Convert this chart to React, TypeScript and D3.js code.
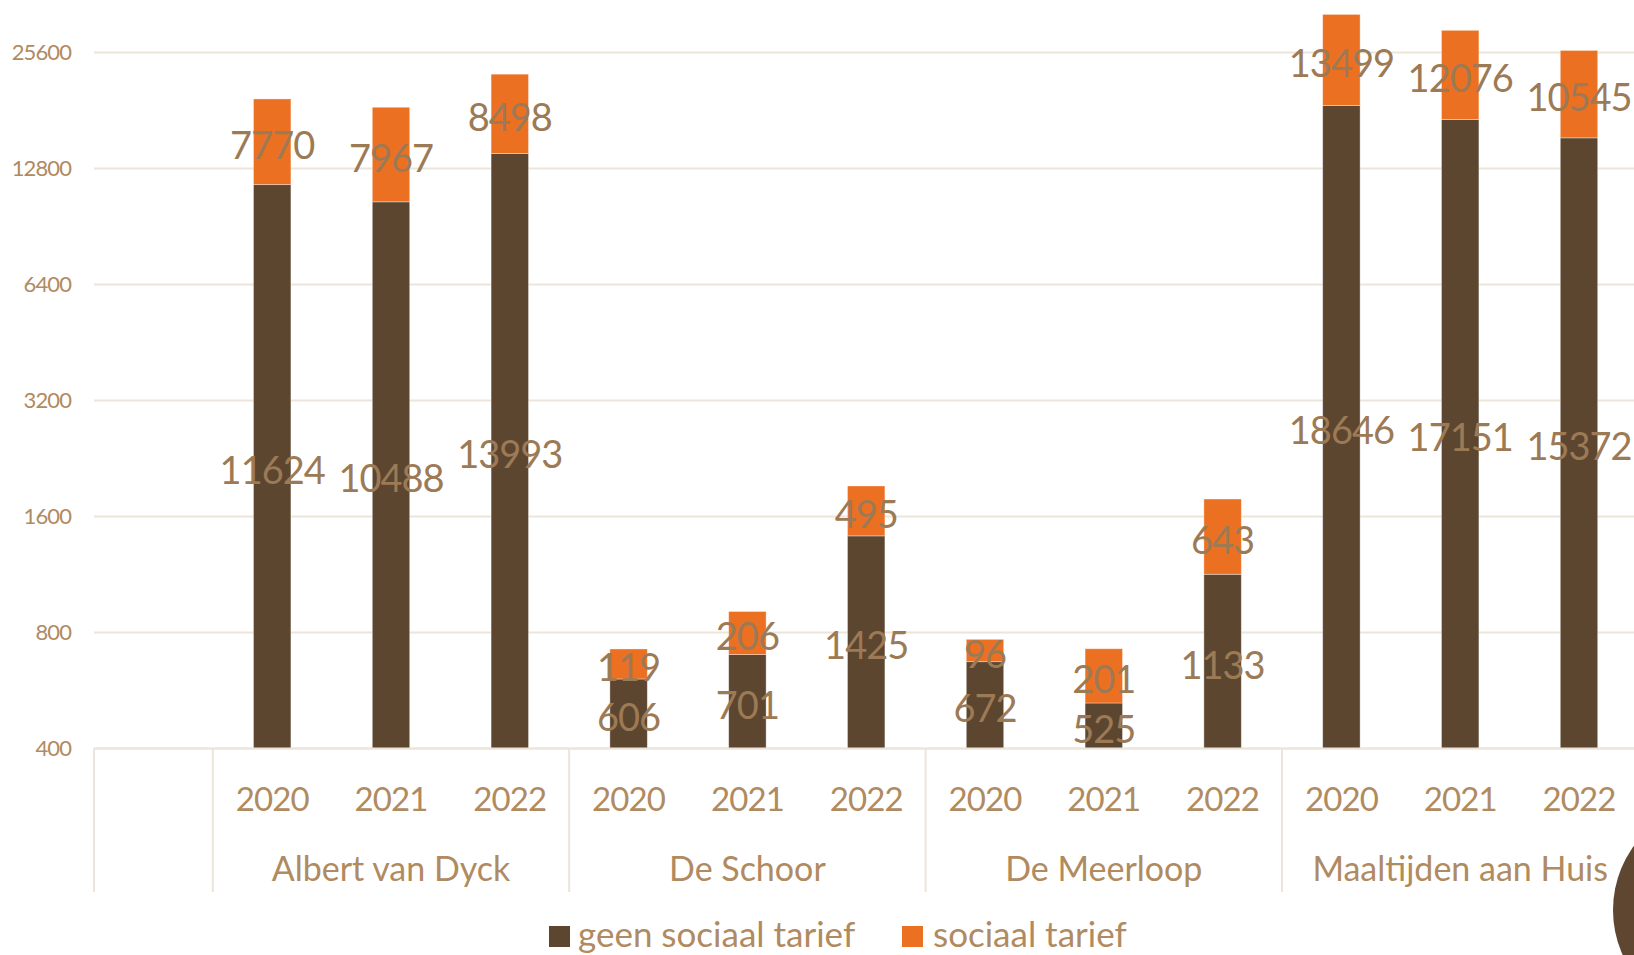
import React from "react";
import * as d3 from "d3";

const groups = ["Albert van Dyck", "De Schoor", "De Meerloop", "Maaltijden aan Huis"];
const years = ["2020", "2021", "2022"];
const geenSociaal = [11624, 10488, 13993, 606, 701, 1425, 672, 525, 1133, 18646, 17151, 15372];
const sociaal = [7770, 7967, 8498, 119, 206, 495, 96, 201, 643, 13499, 12076, 10545];
const yTicks = [400, 800, 1600, 3200, 6400, 12800, 25600];
const seriesNames = ["geen sociaal tarief", "sociaal tarief"];

const W = 1634;
const H = 955;
const FONT = "Lato, 'Open Sans', sans-serif";
const C_DARK = "#5C4630";
const C_ORANGE = "#EC7022";
const C_GRID = "#EDE4DA";
const C_AXISTXT = "#B08A60";
const C_LABEL = "#9C7A55";

export default function App() {
  const left = 94;
  const step = 118.8;
  const keys = ["blank"];
  groups.forEach((g) => years.forEach((yr) => keys.push(g + "|" + yr)));
  const x = d3
    .scaleBand<string>()
    .domain(keys)
    .range([left, left + step * keys.length])
    .paddingInner(0.685)
    .paddingOuter(0.3425);
  const y = d3.scaleLog().base(2).domain([400, 25600]).range([748.5, 52.5]);
  const bw = x.bandwidth();

  const rows = keys.slice(1).map((k, i) => {
    const [g, yr] = k.split("|");
    return { key: k, group: g, year: yr, a: geenSociaal[i], b: sociaal[i] };
  });

  const labelSize = 38;
  const labelLs = -1.0;
  const labelOff = labelSize * 0.36 + 3.5;

  return (
    <svg
      width={W}
      height={H}
      style={{ position: "absolute", left: 0, top: 0, background: "#fff" }}
      fontFamily={FONT}
    >
      <rect x={0} y={0} width={W} height={H} fill="#fff" />
      {/* gridlines */}
      {yTicks.map((t) => (
        <line key={"g" + t} x1={left} x2={W} y1={y(t)} y2={y(t)} stroke={C_GRID} strokeWidth={2} />
      ))}
      {/* y tick labels */}
      {yTicks.map((t) => (
        <text
          key={"t" + t}
          x={71}
          y={y(t) + 7.8}
          textAnchor="end"
          fontSize={22}
          letterSpacing={-0.9}
          fill={C_AXISTXT}
        >
          {t}
        </text>
      ))}
      {/* bars */}
      {rows.map((r) => {
        const x0 = x(r.key)!;
        const y0 = y(400);
        const y1 = y(r.a);
        const y2 = y(r.a + r.b);
        return (
          <g key={r.key}>
            <rect x={x0} y={y1} width={bw} height={y0 - y1} fill={C_DARK} stroke="#fff" strokeOpacity={0.45} strokeWidth={0.8} />
            <rect x={x0} y={y2} width={bw} height={y1 - y2} fill={C_ORANGE} stroke="#fff" strokeOpacity={0.45} strokeWidth={0.8} />
          </g>
        );
      })}
      {/* data labels */}
      {rows.map((r) => {
        const cx = x(r.key)! + bw / 2;
        const y0 = y(400);
        const y1 = y(r.a);
        const y2 = y(r.a + r.b);
        return (
          <g key={"l" + r.key} fill={C_LABEL} fontSize={labelSize} letterSpacing={labelLs} textAnchor="middle">
            <text x={cx} y={(y0 + y1) / 2 + labelOff}>{r.a}</text>
            <text x={cx} y={(y1 + y2) / 2 + labelOff}>{r.b}</text>
          </g>
        );
      })}
      {/* category axis */}
      <line x1={left} x2={W} y1={y(400)} y2={y(400)} stroke={C_GRID} strokeWidth={2} />
      {[0, 1, 4, 7, 10, 13].map((k) => {
        const xx = left + step * k;
        return <line key={"s" + k} x1={xx} x2={xx} y1={y(400)} y2={892} stroke={C_GRID} strokeWidth={2} />;
      })}
      {rows.map((r) => (
        <text
          key={"y" + r.key}
          x={x(r.key)! + bw / 2}
          y={811}
          textAnchor="middle"
          fontSize={33}
          letterSpacing={-0.9}
          fill={C_AXISTXT}
        >
          {r.year}
        </text>
      ))}
      {groups.map((g, gi) => {
        const cx = left + step * (1 + gi * 3 + 1.5);
        return (
          <text key={"gr" + g} x={cx} y={881} textAnchor="middle" fontSize={34} fill={C_AXISTXT}>
            {g}
          </text>
        );
      })}
      {/* legend */}
      <rect x={549} y={926} width={21} height={21} fill={C_DARK} />
      <text x={578} y={947} fontSize={35} fill={C_AXISTXT}>{seriesNames[0]}</text>
      <rect x={902} y={926} width={21} height={21} fill={C_ORANGE} />
      <text x={933} y={947} fontSize={35} fill={C_AXISTXT}>{seriesNames[1]}</text>
      {/* decorative circle */}
      <circle cx={1722} cy={910} r={109} fill="#5E4630" />
    </svg>
  );
}
